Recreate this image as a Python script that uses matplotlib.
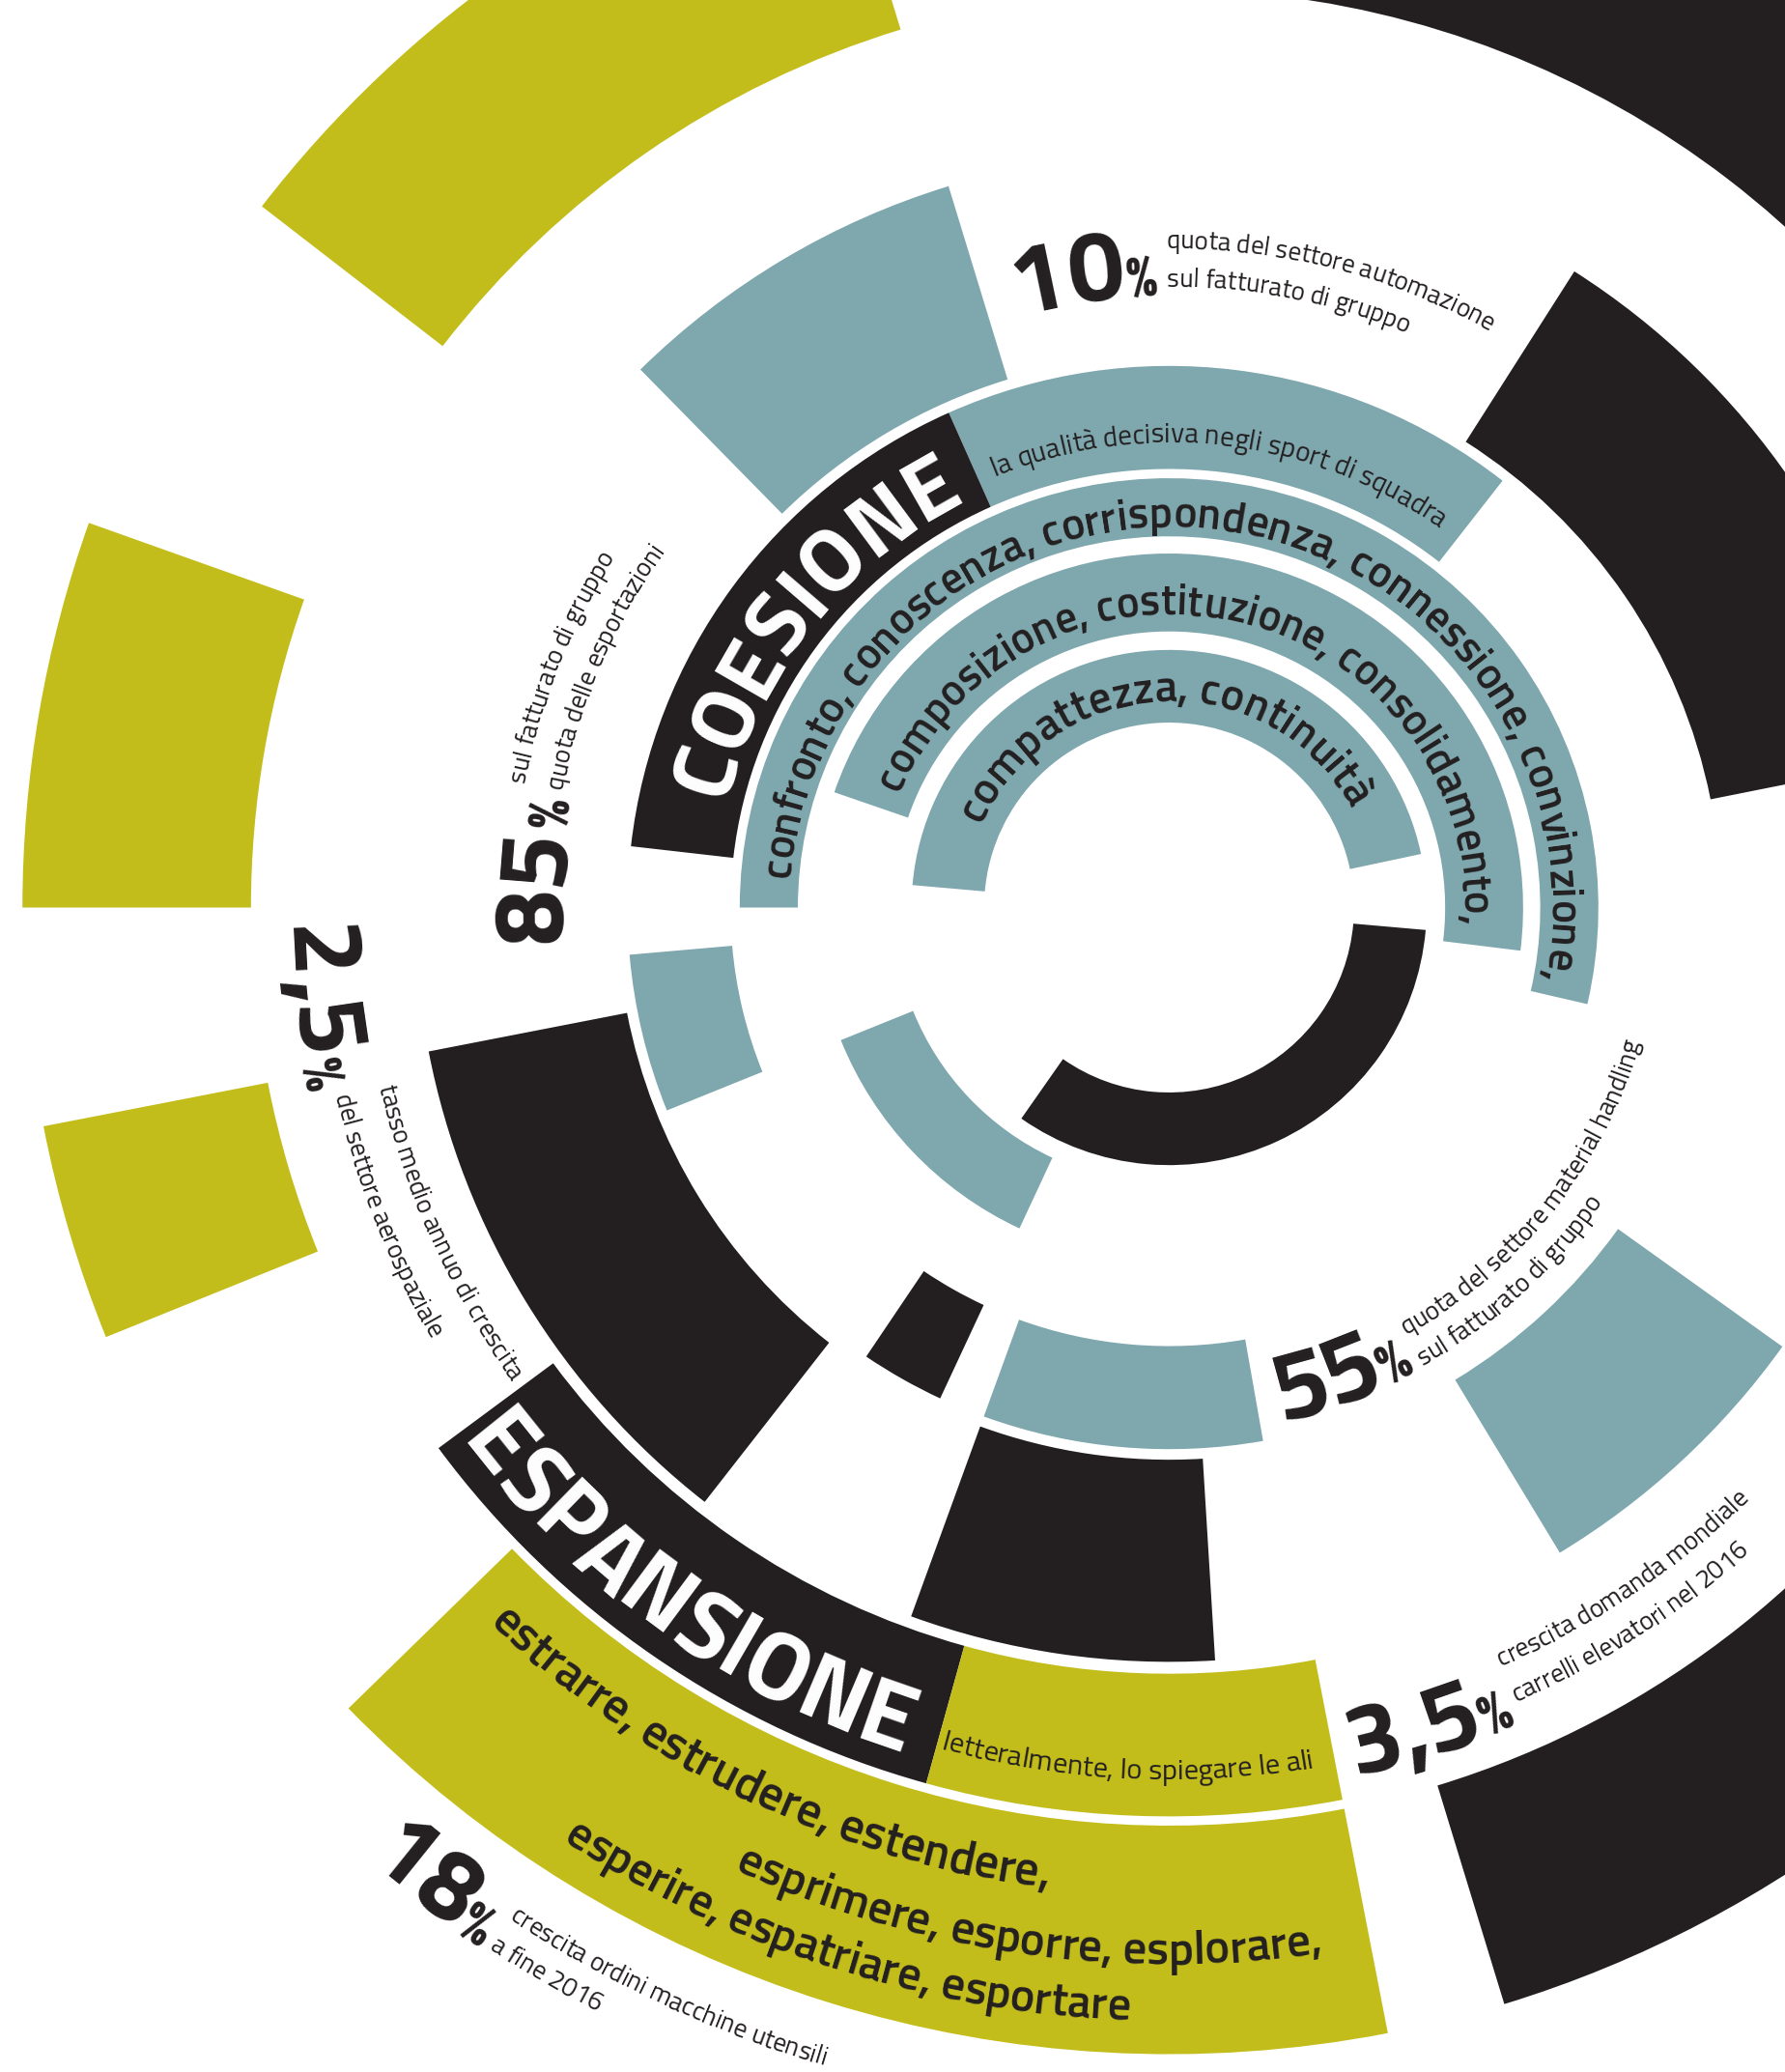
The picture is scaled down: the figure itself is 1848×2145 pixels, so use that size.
import numpy as np
import matplotlib
matplotlib.use("Agg")
import matplotlib.pyplot as plt
from matplotlib.patches import Wedge
from matplotlib.font_manager import FontProperties, findfont, get_font

BLACK = "#231f20"
TEAL = "#7ea7ae"
YELLOW = "#c3bd1b"
WHITE = "#ffffff"

# rings: inner / outer radius
ring_inner = [140, 209, 281, 332, 418, 580, 695]
ring_outer = [195, 268, 325, 410, 571, 688, 868]

# segments: ring index, start angle, end angle, colour
seg_ring = [0, 0, 1, 1, 2, 3, 3, 3, 3, 3, 4, 4, 4, 4, 4, 5, 5, 6, 6, 6, 6, 6, 6]
seg_from = [12, 235, -7, 202, -13, 52, 114, 185, 236, 250, 11.3, 107, 191, 250, 301.2,
            216.5, 254.5, 20, 107, 160.4, 191, 224.3, 287]
seg_to = [175, 355, 161, 245, 180, 114, 173.5, 202, 245, 280, 57.5, 134.5, 232, 273.5, 324.4,
          254.5, 281, 85, 142.3, 180, 202, 281, 330]
seg_color = [TEAL, BLACK, TEAL, TEAL, TEAL, TEAL, BLACK, TEAL, BLACK, TEAL,
             BLACK, TEAL, BLACK, BLACK, TEAL, BLACK, YELLOW, BLACK, YELLOW, YELLOW,
             YELLOW, YELLOW, BLACK]

coesione_words = ["compattezza, continuità",
                  "composizione, costituzione, consolidamento,",
                  "confronto, conoscenza, corrispondenza, connessione, convinzione,"]
espansione_words = ["estrarre, estrudere, estendere,",
                    "esprimere, esporre, esplorare,",
                    "esperire, espatriare, esportare"]
titles = ["COESIONE", "ESPANSIONE"]
subtitles = ["la qualità decisiva negli sport di squadra",
             "letteralmente, lo spiegare le ali"]
pct_values = ["10", "85", "2,5", "55", "3,5", "18"]
pct_notes = [("quota del settore automazione", "sul fatturato di gruppo"),
             ("sul fatturato di gruppo", "quota delle esportazioni"),
             ("tasso medio annuo di crescita", "del settore aerospaziale"),
             ("quota del settore material handling", "sul fatturato di gruppo"),
             ("crescita domanda mondiale", "carrelli elevatori nel 2016"),
             ("crescita ordini macchine utensili", "a fine 2016")]

FAMILY = ["Titillium Web", "Lato"]
W, H = 1352, 1568.5
PT = (1849 / W) * 72 / 100   # points per data unit
CX, CY = 885, H - 687

fig = plt.figure(figsize=(18.49, 21.45), dpi=100)
ax = fig.add_axes([0, 0, 1, 1])
ax.set_xlim(0, W)
ax.set_ylim(0, H)
ax.axis("off")

for i, a, b, c in zip(seg_ring, seg_from, seg_to, seg_color):
    r0, r1 = ring_inner[i], ring_outer[i]
    ax.add_patch(Wedge((CX, CY), r1, a, b, width=r1 - r0, facecolor=c,
                       edgecolor="none"))


def advances(text, weight):
    font = get_font(findfont(FontProperties(family=FAMILY, weight=weight)))
    font.set_size(100, 72)
    return [font.load_char(ord(ch)).linearHoriAdvance / 65536 / 100 for ch in text]


def fit_size(text, r, a0, a1, weight):
    length = abs(np.radians(a1 - a0)) * r
    return length * PT / sum(advances(text, weight))


def arc_text(text, r, a0, size, weight, color, outward=True):
    sgn = -1 if outward else 1
    s = 0.0
    for ch, w in zip(text, advances(text, weight)):
        w = w * size / PT
        phi = a0 + sgn * np.degrees((s + w / 2) / r)
        if ch != " ":
            x = CX + r * np.cos(np.radians(phi))
            y = CY + r * np.sin(np.radians(phi))
            rot = phi - 90 if outward else phi + 90
            ax.text(x, y, ch, fontsize=size, fontweight=weight, family=FAMILY,
                    color=color, rotation=rot, rotation_mode="anchor",
                    ha="center", va="baseline")
        s += w
    return a0 + sgn * np.degrees(s / r)


def span_text(text, r, a0, a1, weight, color, outward=True):
    size = fit_size(text, r, a0, a1, weight)
    arc_text(text, r, a0, size, weight, color, outward)


# coesione side (reads clockwise)
span_text(coesione_words[0], 156, 156, 28.5, "semibold", BLACK)
span_text(coesione_words[1], 222, 157, -3.5, "semibold", BLACK)
span_text(coesione_words[2], 288, 175.5, -11, "semibold", BLACK)
span_text(titles[0], 346, 166.5, 116.5, "bold", WHITE)
span_text(subtitles[0], 352, 112, 54.5, "normal", BLACK)

# espansione side (reads counter-clockwise)
span_text(titles[1], 672, 217, 252.6, "bold", WHITE, outward=False)
span_text(subtitles[1], 660, 254.8, 279.6, "normal", BLACK, outward=False)
span_text(espansione_words[0], 748, 226.5, 263, "semibold", BLACK, outward=False)
span_text(espansione_words[1], 800, 245.7, 278.4, "semibold", BLACK, outward=False)
span_text(espansione_words[2], 843, 237, 268, "semibold", BLACK, outward=False)

# percentages: radius, start angle, outward, radii of the two note lines
PCT_SIZE = 74
NOTE_SIZE = 19.5
pct_layout = [
    (463, 104.4, True, (499, 470)),
    (460, 183.3, True, (497, 468)),
    (668, 181.2, False, (614, 648)),
    (398, 282.4, False, (370, 396)),
    (672, 282.1, False, (627, 656)),
    (945, 229.9, False, (915, 942)),
]
for val, notes, (r, a0, out, note_r) in zip(pct_values, pct_notes, pct_layout):
    end = arc_text(val, r, a0, PCT_SIZE, "bold", BLACK, out)
    end = arc_text("%", r, end, PCT_SIZE * 0.56, "bold", BLACK, out)
    sgn = -1 if out else 1
    for line, rr in zip(notes, note_r):
        arc_text(line, rr, end + sgn * np.degrees(7 / rr), NOTE_SIZE, "normal",
                 BLACK, out)

fig.savefig("out.png", dpi=100, facecolor="white")
